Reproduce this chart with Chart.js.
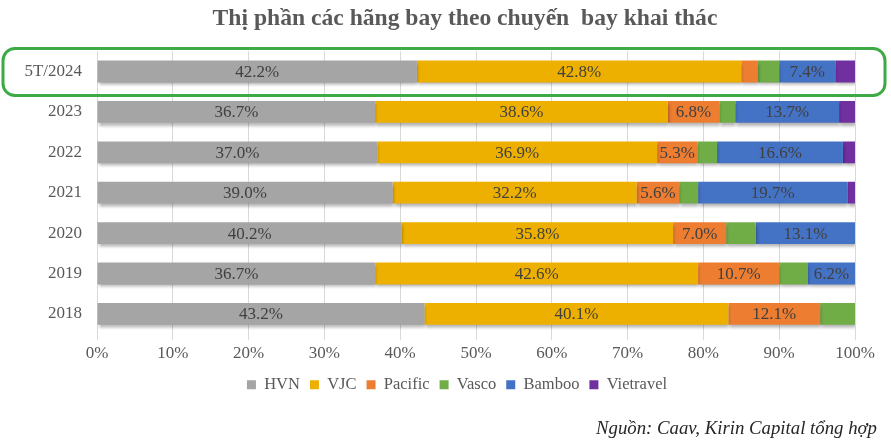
<!DOCTYPE html>
<html>
<head>
<meta charset="utf-8">
<script src="https://cdn.jsdelivr.net/npm/chart.js@4/dist/chart.umd.min.js"></script>
<style>
  html, body { margin: 0; padding: 0; background: #fff; }
  #wrap { width: 891px; height: 446px; position: relative; }
</style>
</head>
<body>
<div id="wrap"><canvas id="marketShareChart" width="891" height="446"></canvas></div>
<script>
// Dữ liệu thị phần (%)
const periods   = ['5T/2024', '2023', '2022', '2021', '2020', '2019', '2018'];
const hvn       = [42.2, 36.7, 37.0, 39.0, 40.2, 36.7, 43.2];
const vjc       = [42.8, 38.6, 36.9, 32.2, 35.8, 42.6, 40.1];
const pacific   = [2.2, 6.8, 5.3, 5.6, 7.0, 10.7, 12.1];
const vasco     = [2.8, 2.1, 2.6, 2.5, 3.9, 3.8, 4.6];
const bamboo    = [7.4, 13.7, 16.6, 19.7, 13.1, 6.2, 0];
const vietravel = [2.6, 2.1, 1.6, 1.0, 0, 0, 0];
const xTicks    = [0, 10, 20, 30, 40, 50, 60, 70, 80, 90, 100];
const sourceText = 'Nguồn: Caav, Kirin Capital tổng hợp';

const serif = '"Liberation Serif", "DejaVu Serif", "Times New Roman", serif';

function ds(label, data, color) {
    return {
        label: label,
        data: data,
        backgroundColor: color,
        borderWidth: 0,
        barPercentage: 0.6,
        categoryPercentage: 0.9
    };
}

// dịch tiêu đề và chú thích sang phải một chút như bản gốc
const shiftBoxes = {
    id: 'shiftBoxes',
    afterLayout(chart) {
        const t = chart.titleBlock, l = chart.legend;
        if (t) { t.left += 34; t.right += 34; }
        if (l) { l.left += 26; l.right += 26; }
    }
};

// bóng đổ nhẹ dưới các thanh
const barShadow = {
    id: 'barShadow',
    beforeDatasetsDraw(chart) {
        const ctx = chart.ctx;
        ctx.save();
        ctx.shadowColor = 'rgba(0,0,0,0.3)';
        ctx.shadowBlur = 3;
        ctx.shadowOffsetX = 1;
        ctx.shadowOffsetY = 3;
    },
    afterDatasetsDraw(chart) {
        chart.ctx.restore();
    }
};

// nhãn giá trị trong thanh (chỉ hiện khi >= 5%)
const barLabels = {
    id: 'barLabels',
    afterDatasetsDraw(chart) {
        const ctx = chart.ctx;
        ctx.save();
        ctx.font = '17px ' + serif;
        ctx.fillStyle = '#404040';
        ctx.textAlign = 'center';
        ctx.textBaseline = 'middle';
        chart.data.datasets.forEach(function(d, i) {
            const meta = chart.getDatasetMeta(i);
            meta.data.forEach(function(bar, j) {
                const v = d.data[j];
                if (v < 5) return;
                const cx = (bar.x + bar.base) / 2;
                ctx.fillText(v.toFixed(1) + '%', cx, bar.y + 1);
            });
        });
        ctx.restore();
    }
};

// khung xanh đánh dấu 5T/2024 + dòng nguồn
const extras = {
    id: 'extras',
    afterDraw(chart) {
        const ctx = chart.ctx;
        const y = chart.scales.y.getPixelForValue(0);
        const left = 3, right = chart.width - 6;
        const top = y - 23, bottom = y + 24;
        ctx.save();
        ctx.strokeStyle = '#3DAA45';
        ctx.lineWidth = 3;
        ctx.beginPath();
        ctx.roundRect(left, top, right - left, bottom - top, 12);
        ctx.stroke();

        ctx.font = 'italic 18.8px ' + serif;
        ctx.fillStyle = '#262626';
        ctx.textAlign = 'right';
        ctx.textBaseline = 'middle';
        ctx.fillText(sourceText, chart.width - 14, chart.height - 17);
        ctx.restore();
    }
};

document.addEventListener('DOMContentLoaded', function() {
    const ctx = document.getElementById('marketShareChart').getContext('2d');
    new Chart(ctx, {
        type: 'bar',
        data: {
            labels: periods,
            datasets: [
                ds('HVN', hvn, '#A5A5A5'),
                ds('VJC', vjc, '#EDB000'),
                ds('Pacific', pacific, '#ED7D31'),
                ds('Vasco', vasco, '#70AD47'),
                ds('Bamboo', bamboo, '#4472C4'),
                ds('Vietravel', vietravel, '#7030A0')
            ]
        },
        options: {
            indexAxis: 'y',
            responsive: false,
            animation: false,
            layout: { padding: { left: 7, right: 36, top: 0, bottom: 43 } },
            scales: {
                x: {
                    stacked: true,
                    min: 0,
                    max: 100,
                    afterBuildTicks: function(scale) {
                        scale.ticks = xTicks.map(function(v) { return { value: v }; });
                    },
                    ticks: {
                        callback: function(v) { return v + '%'; },
                        font: { family: serif, size: 17 },
                        color: '#595959',
                        padding: 3
                    },
                    grid: { color: '#D9D9D9', tickLength: 6 },
                    border: { display: false }
                },
                y: {
                    stacked: true,
                    afterFit: function(scale) { scale.width = 90; },
                    ticks: {
                        font: { family: serif, size: 17 },
                        color: '#595959',
                        padding: 15
                    },
                    grid: { display: false, drawTicks: false },
                    border: { display: false }
                }
            },
            plugins: {
                title: {
                    display: true,
                    text: 'Thị phần các hãng bay theo chuyến  bay khai thác',
                    font: { family: serif, size: 23.6, weight: 'bold' },
                    color: '#595959',
                    padding: { top: 5, bottom: 18 }
                },
                legend: {
                    position: 'bottom',
                    labels: {
                        boxWidth: 9,
                        boxHeight: 9,
                        padding: 10,
                        font: { family: serif, size: 16.5 },
                        color: '#595959'
                    }
                },
                tooltip: { enabled: false }
            }
        },
        plugins: [shiftBoxes, barShadow, barLabels, extras]
    });
});
</script>
</body>
</html>
